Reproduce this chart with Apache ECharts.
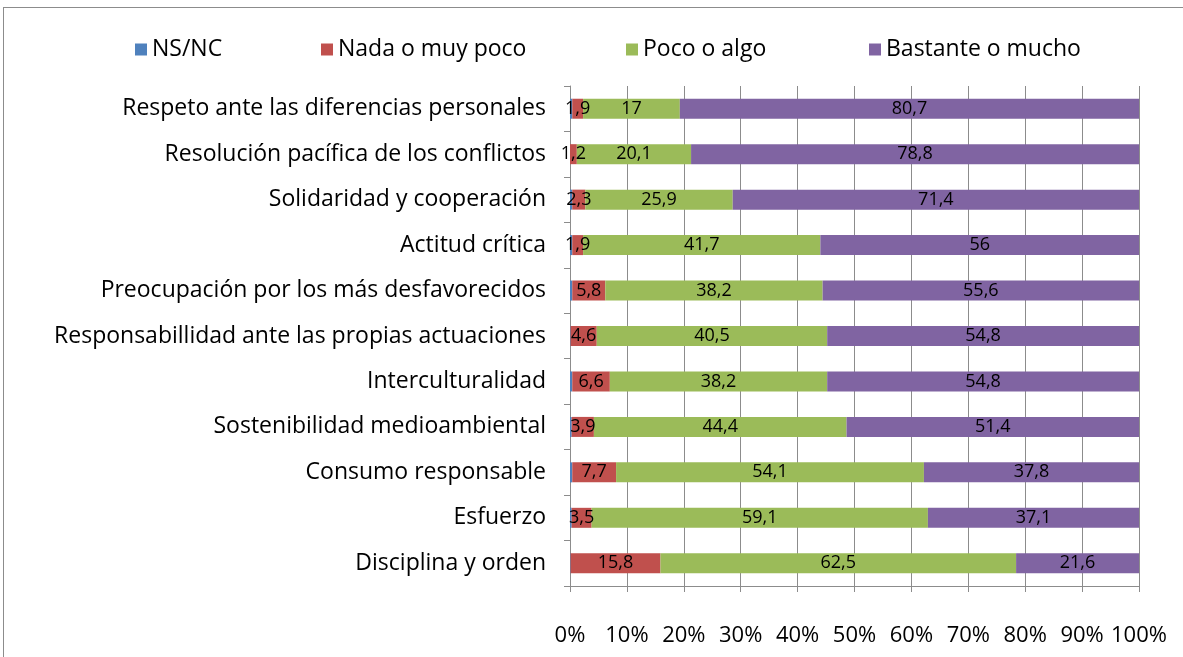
<!DOCTYPE html>
<html>
<head>
<meta charset="utf-8">
<script src="https://cdn.jsdelivr.net/npm/echarts@6/dist/echarts.min.js"></script>
<style>
  html, body { margin: 0; padding: 0; background: #fff; }
  #frame {
    position: absolute; left: 3px; top: 7px; width: 1200px; height: 700px;
    border: 1px solid #8c8c8c; box-sizing: border-box;
  }
  #chart { position: absolute; left: 0; top: 0; width: 1183px; height: 657px; }
</style>
</head>
<body>
<div id="frame"></div>
<div id="chart"></div>
<script>
// categorías de abajo hacia arriba (orden del eje Y de ECharts)
const categories = [
  'Disciplina y orden',
  'Esfuerzo',
  'Consumo responsable',
  'Sostenibilidad medioambiental',
  'Interculturalidad',
  'Responsabillidad ante las propias actuaciones',
  'Preocupación por los más desfavorecidos',
  'Actitud crítica',
  'Solidaridad y cooperación',
  'Resolución pacífica de los conflictos',
  'Respeto ante las diferencias personales'
]
const nsnc = [0.1, 0.3, 0.4, 0.3, 0.4, 0.1, 0.4, 0.4, 0.4, 0, 0.4]
const nada = [15.8, 3.5, 7.7, 3.9, 6.6, 4.6, 5.8, 1.9, 2.3, 1.2, 1.9]
const poco = [62.5, 59.1, 54.1, 44.4, 38.2, 40.5, 38.2, 41.7, 25.9, 20.1, 17]
const bastante = [21.6, 37.1, 37.8, 51.4, 54.8, 54.8, 55.6, 56, 71.4, 78.8, 80.7]
const seriesNames = ['NS/NC', 'Nada o muy poco', 'Poco o algo', 'Bastante o mucho']

const FONT = 'Open Sans'
const totals = categories.map((_, i) => nsnc[i] + nada[i] + poco[i] + bastante[i])

function makeSeries(name, values, color, showLabel) {
  return {
    name,
    type: 'bar',
    stack: 'total',
    barWidth: '44%',
    itemStyle: { color },
    label: {
      show: showLabel,
      position: 'inside',
      color: '#000',
      fontFamily: FONT,
      fontSize: 18,
      formatter: p => String(values[p.dataIndex]).replace('.', ',')
    },
    data: values.map((v, i) => (v / totals[i]) * 100)
  }
}

// una leyenda por serie para colocarlas como en el original
const legendLefts = [130, 316, 621, 864]
const legends = seriesNames.map((n, i) => ({
  top: 33,
  left: legendLefts[i],
  itemWidth: 12,
  itemHeight: 12,
  icon: 'rect',
  textStyle: { fontSize: 23, color: '#000', fontFamily: FONT },
  data: [n]
}))

const myChart = echarts.init(document.getElementById('chart'))
myChart.setOption({
  animation: false,
  textStyle: { fontFamily: FONT },
  legend: legends,
  grid: { left: 570, right: 44, top: 86, bottom: 71 },
  xAxis: {
    type: 'value',
    min: 0,
    max: 100,
    interval: 10,
    axisLine: { show: true, lineStyle: { color: '#8c8c8c' } },
    axisTick: { show: true, length: 6, lineStyle: { color: '#8c8c8c' } },
    axisLabel: {
      formatter: '{value}%',
      color: '#000', fontSize: 22, margin: 39, fontFamily: FONT
    },
    splitLine: { show: true, lineStyle: { color: '#8c8c8c', width: 1 } }
  },
  yAxis: {
    type: 'category',
    data: categories,
    axisLine: { show: true, lineStyle: { color: '#8c8c8c' } },
    axisTick: { show: true, length: 6, lineStyle: { color: '#8c8c8c' } },
    axisLabel: { color: '#000', fontSize: 23, margin: 24, fontFamily: FONT }
  },
  series: [
    makeSeries('NS/NC', nsnc, '#4f81bd', false),
    makeSeries('Nada o muy poco', nada, '#c0504d', true),
    makeSeries('Poco o algo', poco, '#9bbb59', true),
    makeSeries('Bastante o mucho', bastante, '#8064a2', true)
  ]
})
</script>
</body>
</html>
